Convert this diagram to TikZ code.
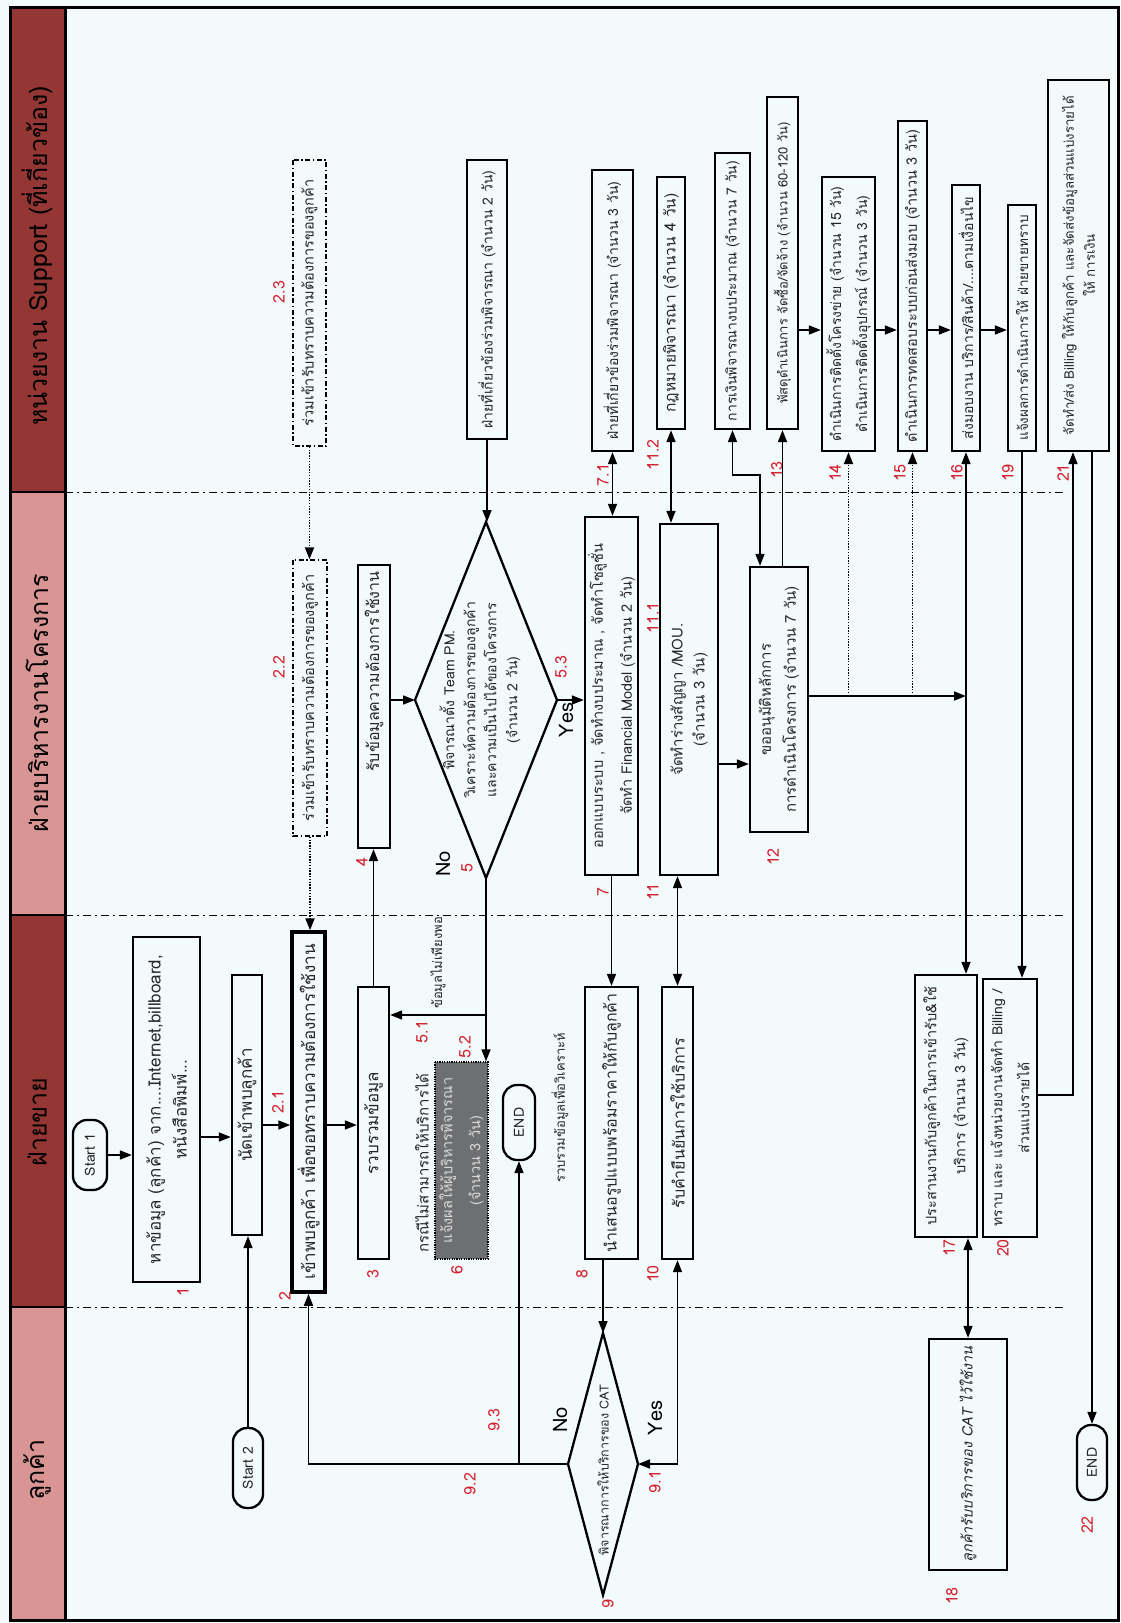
\documentclass[tikz,border=0pt]{standalone}
\usepackage{fontspec}
\setmainfont[Script=Thai]{Loma}
\usetikzlibrary{arrows.meta,shapes.geometric,calc}
\definecolor{bgc}{HTML}{F3FAFC}
\definecolor{hdark}{HTML}{943634}
\definecolor{hpink}{HTML}{D99594}
\definecolor{lblred}{HTML}{D4212F}
\definecolor{txt}{HTML}{262626}
\definecolor{greyb}{HTML}{6E6F71}
\definecolor{greyt}{HTML}{D9D9D9}
\newcommand{\fs}[1]{\fontsize{#1}{#1}\selectfont}
\tikzset{
  box/.style={draw=black, line width=2.3pt, fill=bgc, rotate=90, inner sep=0pt, text=txt,
    align=center, font=\fontsize{14}{26}\selectfont},
  dbox/.style={box, line width=1.4pt, dash pattern=on 5pt off 2.5pt on 1.5pt off 2.5pt},
  gbox/.style={box, fill=greyb, text=greyt, line width=1.3pt, dash pattern=on 1.2pt off 1.2pt},
  term/.style={box, rounded corners=14pt},
  diapath/.style={draw=black, line width=2.3pt, fill=bgc, line join=miter},
  diat/.style={rotate=90, inner sep=0pt, text=txt, align=center, font=\fontsize{14}{21}\selectfont},
  lbl/.style={text=lblred, rotate=90, inner sep=0pt, font=\fontsize{16}{16}\selectfont},
  yn/.style={text=black, rotate=90, inner sep=0pt, font=\fontsize{20}{20}\selectfont},
  ftxt/.style={text=txt, rotate=90, inner sep=0pt, font=\fontsize{14}{14}\selectfont},
  hdr/.style={text=black, rotate=90, inner sep=0pt, font=\fontsize{25}{25}\selectfont},
  arr/.style={line width=1.6pt, -{Triangle[length=12pt,width=9pt]}},
  darr/.style={line width=1.6pt, {Triangle[length=12pt,width=9pt]}-{Triangle[length=12pt,width=9pt]}},
  dotarr/.style={line width=1.9pt, dash pattern=on 1.4pt off 1.4pt, -{Triangle[length=12pt,width=9pt]}},
  lane/.style={line width=1pt, dash pattern=on 8pt off 4pt on 2pt off 4pt},
}
\begin{document}
\begin{tikzpicture}[x=1pt,y=-1pt]
\useasboundingbox (0,0) rectangle (1120,1623);
\fill[bgc] (0,0) rectangle (1120,1623);
% header column
\fill[hdark] (10,7) rectangle (65,492);
\fill[hpink] (10,492) rectangle (65,915);
\fill[hdark] (10,915) rectangle (65,1307);
\fill[hpink] (10,1307) rectangle (65,1620);
\draw[line width=2.5pt] (10,492) -- (65,492) (10,915) -- (65,915) (10,1307) -- (65,1307);
\draw[line width=3pt] (65,7) -- (65,1620);
\draw[line width=3pt] (10,7) rectangle (1118,1620);
\node[hdr] (hsup) at (37,256) {หน่วยงาน Support (ที่เกี่ยวข้อง)};
\node[hdr] (hpm) at (37,703) {ฝ่ายบริหารงานโครงการ};
\node[hdr] (hsale) at (37,1122) {ฝ่ายขาย};
\node[hdr] (hcus) at (37,1470) {ลูกค้า};
% lane separators
\draw[lane] (65,492) -- (1063,492);
\draw[lane] (65,915) -- (1063,915);
\draw[lane] (65,1307) -- (1063,1307);

% ---------- Support lane
\node[dbox, minimum width=286pt, minimum height=33pt, font=\fs{14.5}] (s23) at (309.5,303) {ร่วมเข้ารับทราบความต้องการของลูกค้า};
\node[box, minimum width=279pt, minimum height=40pt] (s5in) at (487,299.5) {ฝ่ายที่เกี่ยวข้องร่วมพิจารณา (จำนวน 2 วัน)};
\node[box, minimum width=281pt, minimum height=41pt] (s71) at (612.5,310.5) {ฝ่ายที่เกี่ยวข้องร่วมพิจารณา (จำนวน 3 วัน)};
\node[box, minimum width=252pt, minimum height=28pt, font=\fs{15.5}] (s112) at (671,303) {กฎหมายพิจารณา (จำนวน 4 วัน)};
\node[box, minimum width=276pt, minimum height=35pt] (sfin) at (732.5,291) {การเงินพิจารณางบประมาณ (จำนวน 7 วัน)};
\node[box, minimum width=332pt, minimum height=31pt, font=\fs{13}] (s13) at (782.5,263) {พัสดุดำเนินการ จัดซื้อ/จัดจ้าง (จำนวน 60-120 วัน)};
\node[box, minimum width=274pt, minimum height=53pt, font=\fontsize{14}{26}\selectfont] (s14) at (848.5,314) {ดำเนินการติดตั้งโครงข่าย (จำนวน 15 วัน)\\ดำเนินการติดตั้งอุปกรณ์ (จำนวน 3 วัน)};
\node[box, minimum width=330pt, minimum height=29pt, font=\fs{14.5}] (s15) at (912.5,286) {ดำเนินการทดสอบระบบก่อนส่งมอบ (จำนวน 3 วัน)};
\node[box, minimum width=266pt, minimum height=28pt] (s16) at (966,318) {ส่งมอบงาน บริการ/สินค้า/....ตามเงื่อนไข};
\node[box, minimum width=246pt, minimum height=28pt, font=\fs{13.5}] (s19) at (1022,328) {แจ้งผลการดำเนินการให้ ฝ่ายขายทราบ};
\node[box, minimum width=371pt, minimum height=61pt, font=\fontsize{13.3}{21}\selectfont] (s21) at (1078.5,265.5) {จัดทำ/ส่ง Billing ให้กับลูกค้า และจัดส่งข้อมูลส่วนแบ่งรายได้\\ให้ การเงิน};

% ---------- PM lane
\node[dbox, minimum width=276pt, minimum height=34pt, font=\fs{14.5}] (p22) at (310,698) {ร่วมเข้ารับทราบความต้องการของลูกค้า};
\node[box, minimum width=283pt, minimum height=32pt, font=\fs{16}] (p4) at (374,706.5) {\hspace*{70pt}รับข้อมูลความต้องการใช้งาน};
\coordinate (d5c) at (486,700);
\coordinate (d5top) at (486,522);
\coordinate (d5bot) at (486,878);
\coordinate (d5lft) at (415,700);
\coordinate (d5rgt) at (557,700);
\draw[diapath] (d5top) -- (d5rgt) -- (d5bot) -- (d5lft) -- cycle;
\node[diat] (d5) at (480,700) {พิจารณาตั้ง Team PM.\\วิเคราะห์ความต้องการของลูกค้า\\และความเป็นไปได้ของโครงการ\\(จำนวน 2 วัน)};
\node[box, minimum width=358pt, minimum height=53pt, font=\fontsize{14.5}{29}\selectfont] (p7) at (611.5,696) {ออกแบบระบบ , จัดทำงบประมาณ , จัดทำโซลูชั่น\\จัดทำ Financial Model (จำนวน 2 วัน)};
\node[box, minimum width=351pt, minimum height=58pt, font=\fontsize{15}{22}\selectfont] (p11) at (689,699.5) {จัดทำร่างสัญญา /MOU.\\(จำนวน 3 วัน)};
\node[box, minimum width=265pt, minimum height=58pt, font=\fontsize{15}{25}\selectfont] (p12) at (779,699.5) {ขออนุมัติหลักการ\\การดำเนินโครงการ (จำนวน 7 วัน)};

% ---------- Sales lane
\node[term, minimum width=70pt, minimum height=34pt] (start1) at (90,1155) {Start 1};
\node[box, minimum width=345pt, minimum height=67pt, font=\fontsize{17}{26}\selectfont] (b1) at (166.5,1109.5) {หาข้อมูล (ลูกค้า) จาก....Internet,billboard,\\หนังสือพิมพ์...};
\node[box, minimum width=260pt, minimum height=30pt, font=\fs{17}] (bmeet) at (247,1105) {นัดเข้าพบลูกค้า};
\node[box, line width=3.5pt, minimum width=360pt, minimum height=33pt, font=\fs{17}] (b2) at (308.5,1112) {เข้าพบลูกค้า เพื่อขอทราบความต้องการใช้งาน};
\node[box, minimum width=272pt, minimum height=31pt, font=\fs{17}] (b3) at (373.5,1123) {รวบรวมข้อมูล};
\node[gbox, minimum width=197pt, minimum height=53pt, font=\fontsize{14.5}{28}\selectfont] (b6) at (461.5,1160.5) {แจ้งผลให้ผู้บริหารพิจารณา\\(จำนวน 3 วัน)};
\node[term, minimum width=75pt, minimum height=32pt] (end1) at (519,1122.5) {END};
\node[box, minimum width=272pt, minimum height=53pt, font=\fs{16}] (b8) at (611.5,1123) {นำเสนอรูปแบบพร้อมราคาให้กับลูกค้า};
\node[box, minimum width=272pt, minimum height=31pt, font=\fs{16}] (b10) at (677.5,1123) {รับคำยืนยันการใช้บริการ};
\node[box, minimum width=262pt, minimum height=62pt, font=\fontsize{14.5}{29}\selectfont] (b17) at (946,1106) {ประสานงานกับลูกค้าในการเข้ารับ\&ใช้\\บริการ (จำนวน 3 วัน)};
\node[box, minimum width=258pt, minimum height=54pt, font=\fontsize{14}{27}\selectfont] (b20) at (1010,1108) {ทราบ และ แจ้งหน่วยงานจัดทำ Billing /\\ส่วนแบ่งรายได้};

% ---------- Customer lane
\node[term, minimum width=80pt, minimum height=30pt] (start2) at (248,1468) {Start 2};
\coordinate (d9c) at (603,1464);
\coordinate (d9top) at (603,1333);
\coordinate (d9bot) at (603,1595);
\coordinate (d9lft) at (568,1464);
\coordinate (d9rgt) at (638,1464);
\draw[diapath] (d9top) -- (d9rgt) -- (d9bot) -- (d9lft) -- cycle;
\node[diat, font=\fs{12.5}] (d9) at (603,1470) {พิจารณาการให้บริการของ CAT};
\node[box, minimum width=231pt, minimum height=78pt, font=\fs{14.5}\itshape] (b18) at (968,1454.5) {ลูกค้ารับบริการของ CAT ไว้ใช้งาน};
\node[term, minimum width=75pt, minimum height=30pt] (end22) at (1092,1462.5) {END};

% ---------- free texts
\node[ftxt, font=\fs{13}] (t51) at (438,963) {ข้อมูลไม่เพียงพอ};
\node[ftxt, font=\fs{15}] (t6) at (422,1163) {กรณีไม่สามารถให้บริการได้};
\node[ftxt, font=\fs{13}] (t8) at (560,1108) {รวบรวมข้อมูลเพื่อวิเคราะห์};
\node[yn] (no5) at (443,864) {No};
\node[yn] (yes5) at (566,720) {Yes};
\node[yn] (no9) at (560,1420) {No};
\node[yn] (yes9) at (655,1418) {Yes};

% ---------- red labels
\node[lbl] (l23) at (279,292) {2.3};
\node[lbl] (l22) at (279,667) {2.2};
\node[lbl] (l4) at (362,862) {4};
\node[lbl] (l5) at (467,868) {5};
\node[lbl] (l53) at (561,667) {5.3};
\node[lbl] (l71) at (603,475) {7.1};
\node[lbl] (l112) at (653,455) {11.2};
\node[lbl] (l111) at (653,618) {11.1};
\node[lbl] (l13) at (777,470) {13};
\node[lbl] (l14) at (835,473) {14};
\node[lbl] (l15) at (900,473) {15};
\node[lbl] (l16) at (957,473) {16};
\node[lbl] (l19) at (1008,473) {19};
\node[lbl] (l21) at (1063,473) {21};
\node[lbl] (l12) at (773,857) {12};
\node[lbl] (l7) at (603,892) {7};
\node[lbl] (l11) at (653,892) {11};
\node[lbl] (l1) at (183,1292) {1};
\node[lbl] (l21b) at (278,1102) {2.1};
\node[lbl] (l2) at (285,1296) {2};
\node[lbl] (l3) at (373,1274) {3};
\node[lbl] (l51) at (422,1032) {5.1};
\node[lbl] (l52) at (465,1047) {5.2};
\node[lbl] (l6) at (457,1270) {6};
\node[lbl] (l8) at (582,1274) {8};
\node[lbl] (l10) at (653,1274) {10};
\node[lbl] (l92) at (470,1484) {9.2};
\node[lbl] (l93) at (494,1420) {9.3};
\node[lbl] (l91) at (655,1482) {9.1};
\node[lbl] (l9) at (608,1604) {9};
\node[lbl] (l17) at (949,1248) {17};
\node[lbl] (l20) at (1003,1248) {20};
\node[lbl] (l18) at (952,1596) {18};
\node[lbl] (l22b) at (1087,1525) {22};

% ---------- connectors
\coordinate (yA) at (0,1137);
\coordinate (yB) at (0,1125);
\coordinate (yC) at (0,1015);
\coordinate (yD) at (0,764);
\coordinate (yE) at (0,330);
\coordinate (yG) at (0,696);
\coordinate (cF) at (760,475);
\coordinate (cH) at (1073,1095);
\coordinate (cI) at (1092,0);
\coordinate (cJ) at (968,0);
\coordinate (j51) at (d5bot |- yC);

\draw[arr] (start1.south) -- (start1.south -| b1.north);
\draw[arr] (b1.south |- yA) -- (bmeet.north |- yA);
\draw[arr] (start2.east) -- (start2.east |- bmeet.west);
\draw[arr] (bmeet.south |- yB) -- (b2.north |- yB);
\draw[arr] (b2.south |- yB) -- (b3.north |- yB);
\draw[arr] (b3.east) -- (b3.east |- p4.west);
\draw[arr] (p4.south |- d5lft) -- (d5lft);
\draw[arr] (s5in.west) -- (s5in.west |- d5top);
\draw[arr] (d5rgt) -- (d5rgt -| p7.north);
\draw[arr] (d5bot) -- (d5bot |- b6.east);
\draw[arr] (j51) -- (j51 -| b3.south);
\draw[darr] (s71.west) -- (s71.west |- p7.east);
\draw[arr] (p7.west) -- (p7.west |- b8.east);
\draw[arr] (d9top |- b8.west) -- (d9top);
\draw[arr] (d9lft) -| (b2.west);
\draw[arr] (end1.west |- d9lft) -- (end1.west);
\draw[darr] (d9rgt) -| (b10.west);
\draw[darr] (b10.east |- p11.west) -- (b10.east);
\draw[darr] (s112.west) -- (s112.west |- p11.east);
\draw[arr] (p11.south |- yD) -- (p12.north |- yD);
\draw[darr] (sfin.west) |- (cF) -- (cF |- p12.east);
\draw[arr] (s13.west |- p12.east) -- (s13.west);
\draw[arr] (s13.south |- yE) -- (s14.north |- yE);
\draw[arr] (s14.south |- yE) -- (s15.north |- yE);
\draw[arr] (s15.south |- yE) -- (s16.north |- yE);
\draw[arr] (s16.south |- yE) -- (s19.north |- yE);
\draw[arr] (p12.south |- yG) -- (s16.west |- yG);
\draw[dotarr] (s14.west |- yG) -- (s14.west);
\draw[dotarr] (s15.west |- yG) -- (s15.west);
\draw[darr] (s16.west) -- (s16.west |- b17.east);
\draw[arr] (s19.west) -- (s19.west |- b20.east);
\draw[arr] (b20.south |- cH) -- (cH) -- (cH |- s21.west);
\draw[arr] (cI |- s21.west) -- (end22.east);
\draw[darr] (cJ |- b17.west) -- (cJ |- b18.east);
\draw[dotarr] (s23.west) -- (s23.west |- p22.east);
\draw[dotarr] (p22.west) -- (p22.west |- b2.east);
\end{tikzpicture}
\end{document}
